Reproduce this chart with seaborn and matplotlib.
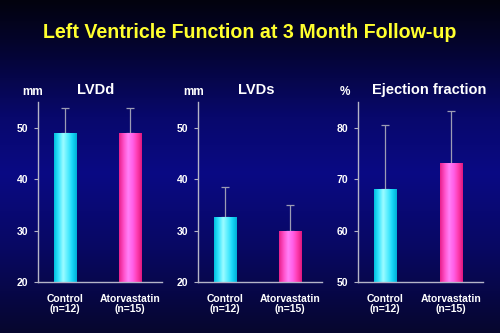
import numpy as np
import pandas as pd
import matplotlib
matplotlib.use("Agg")
import matplotlib.pyplot as plt
from matplotlib.colors import LinearSegmentedColormap
import seaborn as sns

# Echocardiographic results, mean and SD per group
groups = ["Control\n(n=12)", "Atorvastatin\n(n=15)"]
lvdd_mean = [48.9, 48.9]
lvdd_sd = [4.9, 4.9]
lvds_mean = [32.6, 29.9]
lvds_sd = [5.8, 5.0]
ef_mean = [68.0, 73.0]
ef_sd = [12.5, 10.2]

panel_titles = ["LVDd", "LVDs", "Ejection fraction"]
panel_units = ["mm", "mm", "%"]
panel_ticks = [[20, 30, 40, 50], [20, 30, 40, 50], [50, 60, 70, 80]]
panel_limits = [(20, 55), (20, 55), (50, 85)]

sns.set_style("white")
plt.rcParams["font.family"] = ["Liberation Sans", "DejaVu Sans"]

fig = plt.figure(figsize=(5.0, 3.33), dpi=100)

# slide background: vertical navy gradient
bg = fig.add_axes([0, 0, 1, 1], zorder=-10)
bg_cmap = LinearSegmentedColormap.from_list(
    "bg",
    [(0.0, "#02020e"), (0.12, "#04042a"), (0.35, "#08086c"),
     (0.52, "#0a0a84"), (0.75, "#080862"), (1.0, "#06062e")])
bg.imshow(np.linspace(0, 1, 256).reshape(-1, 1), aspect="auto",
          cmap=bg_cmap, extent=[0, 1, 0, 1], origin="upper")
bg.set_axis_off()

fig.text(0.5, 1 - 33 / 333, "Left Ventricle Function at 3 Month Follow-up",
         color="#ffff2e", fontsize=14.1, fontweight="bold",
         ha="center", va="center")

cyan_cmap = LinearSegmentedColormap.from_list(
    "cyan_bar", ["#00c0e0", "#38e6ff", "#9cfcff", "#58eeff", "#18d8f8", "#00b0d8"])
pink_cmap = LinearSegmentedColormap.from_list(
    "pink_bar", ["#e8208c", "#ff50c8", "#ff80f8", "#ff60e8", "#ff3cb0", "#e01880"])

lefts = [38, 198, 358]
rights = [162, 322, 483]
bottom_px, top_px = 282, 102
title_x = [96, 256, 429]
unit_x = [33, 194, 345]

data = [(lvdd_mean, lvdd_sd), (lvds_mean, lvds_sd), (ef_mean, ef_sd)]
axis_color = "#b4b4c8"

for i, (means, sds) in enumerate(data):
    ax = fig.add_axes([lefts[i] / 500, 1 - bottom_px / 333,
                       (rights[i] - lefts[i]) / 500, (bottom_px - top_px) / 333])
    ax.patch.set_alpha(0)
    ymin, ymax = panel_limits[i]
    df = pd.DataFrame({"group": groups, "value": means})
    sns.barplot(data=df, x="group", y="value", ax=ax, width=0.34,
                errorbar=None, color="#00e0ff", linewidth=0, zorder=2)
    ax.errorbar(range(len(groups)), means,
                yerr=[np.zeros(len(sds)), sds], fmt="none",
                ecolor="#9c9cb4", elinewidth=0.9, capsize=2.8,
                capthick=0.9, zorder=1)

    # cylinder-like shading on each bar, kept inside the visible range
    for j, patch in enumerate(ax.patches):
        x0, y0 = patch.get_x(), patch.get_y()
        w, h = patch.get_width(), patch.get_height()
        cmap = cyan_cmap if j == 0 else pink_cmap
        ax.imshow(np.linspace(0, 1, 64).reshape(1, -1), cmap=cmap,
                  aspect="auto",
                  extent=[x0, x0 + w, max(y0, ymin), y0 + h],
                  zorder=3)

    ax.set_xlim(-0.41, 1.49)
    ax.set_ylim(ymin, ymax)
    ax.set_yticks(panel_ticks[i])
    ax.set_xlabel("")
    ax.set_ylabel("")
    for side in ["top", "right"]:
        ax.spines[side].set_visible(False)
    for side in ["left", "bottom"]:
        ax.spines[side].set_color(axis_color)
        ax.spines[side].set_linewidth(1.0)
        ax.spines[side].set_zorder(4)
    ax.tick_params(axis="y", left=True, length=3, width=0.8, color=axis_color,
                   labelcolor="white", labelsize=7.5, pad=4)
    ax.tick_params(axis="x", bottom=False, labelcolor="white", labelsize=7.5,
                   pad=5)
    for lab in ax.get_yticklabels() + ax.get_xticklabels():
        lab.set_fontweight("bold")
    for lab in ax.get_xticklabels():
        lab.set_linespacing(1.0)

    fig.text(title_x[i] / 500, 1 - 90 / 333, panel_titles[i], color="white",
             fontsize=10.5, fontweight="bold", ha="center", va="center")
    fig.text(unit_x[i] / 500, 1 - 92 / 333, panel_units[i], color="white",
             fontsize=8.5, fontweight="bold", ha="center", va="center")

fig.savefig("out.png", dpi=100)
